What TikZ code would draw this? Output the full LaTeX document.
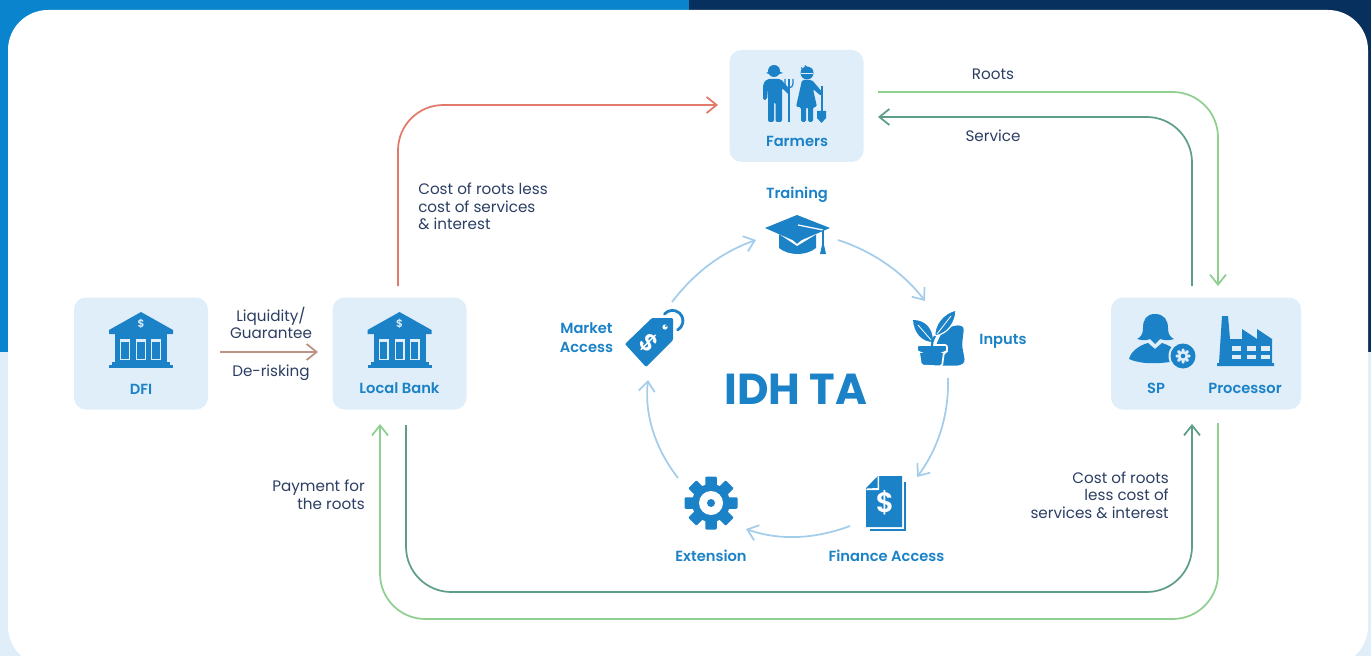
\documentclass[tikz,border=0pt]{standalone}
\usepackage{fontspec}
\setmainfont{Poppins}[BoldFont={Poppins SemiBold}]
\newfontfamily\heavyfont{Poppins Bold}
\usetikzlibrary{arrows.meta}
\definecolor{boxblue}{HTML}{E0EEF9}
\definecolor{iconblue}{HTML}{1B82C7}
\definecolor{topblue}{HTML}{0A84CC}
\definecolor{topnavy}{HTML}{08305E}
\definecolor{inkdark}{HTML}{2C3E63}
\definecolor{lgreen}{HTML}{8FCF8F}
\definecolor{dgreen}{HTML}{5F9E86}
\definecolor{redline}{HTML}{E2796A}
\definecolor{brownline}{HTML}{BC9284}
\definecolor{cyc}{HTML}{A3CDEB}
\tikzset{
  x=0.75pt,y=-0.75pt,
  card/.style={fill=boxblue,rounded corners=9pt},
  lab/.style={font=\fontsize{11}{13.2}\selectfont\bfseries,text=iconblue,inner sep=0pt,align=center},
  note/.style={font=\fontsize{11.4}{13.2}\selectfont,text=inkdark,inner sep=0pt},
  tipp/.style={-{Straight Barb[length=7.5pt,width=12pt,line width=1.3pt]}},
  flow/.style={line width=1.3pt,tipp,rounded corners=34pt},
  ring/.style={draw=cyc,line width=1.3pt,tipp},
}
\newcommand{\bankicon}[2]{%
\begin{scope}[shift={(#1,#2)}]
  \fill[iconblue] (-32,-12) -- (0,-30) -- (32,-12) -- (32,-8) -- (-32,-8) -- cycle;
  \fill[iconblue] (-26,-8) rectangle (26,20);
  \fill[iconblue] (-29,20) rectangle (29,23);
  \fill[iconblue] (-32,23) rectangle (32,26);
  \foreach \c in {-16,0,15}{\fill[boxblue] (\c-5,-3) rectangle (\c+5,18);\fill[iconblue] (\c-3.8,0) rectangle (\c+3.8,17);}
  \node[font=\fontsize{8}{8}\selectfont\bfseries,text=boxblue,inner sep=0pt] at (0,-18) {\$};
\end{scope}}
% centre x, centre y, body radius, tooth radius, tooth width, colour
\newcommand{\gearicon}[6]{%
\foreach \a in {0,45,...,315}{
  \fill[#6,rotate around={\a:(#1,#2)},rounded corners=0.8pt] (#1-#5/2,#2-#4) rectangle (#1+#5/2,#2);}
\fill[#6] (#1,#2) circle (#3);}
\begin{document}
\begin{tikzpicture}
\useasboundingbox (0,0) rectangle (1371,656);
% background
\fill[topblue] (0,0) rectangle (689,352);
\fill[topnavy] (689,0) rectangle (1371,352);
\fill[boxblue] (0,352) rectangle (1371,656);
\begin{scope}
\clip (0,0) rectangle (1371,656);
\fill[white,rounded corners=30pt] (8,10) rectangle (1368,666);
\end{scope}
% cards
\node[card,minimum width=100.5pt,minimum height=84pt,inner sep=0pt] (farmers) at (796.5,106) {};
\node[card,minimum width=100.5pt,minimum height=84pt,inner sep=0pt] (dfi) at (141,353.5) {};
\node[card,minimum width=100.5pt,minimum height=84pt,inner sep=0pt] (bank) at (399.5,353.5) {};
\node[card,minimum width=142.5pt,minimum height=84pt,inner sep=0pt] (proc) at (1206,353.5) {};
% anchor coordinates
\coordinate (bankTop) at (398,286);
\coordinate (farmIn) at (718,105);
\coordinate (rootsStart) at (1218,286);
\coordinate (rootsEnd) at (878,92);
\coordinate (servStart) at (1192,286);
\coordinate (servEnd) at (878,117);
\coordinate (dfiOut) at (220,352);
\coordinate (bankIn) at (318,352);
\coordinate (botA) at (406,425);
\coordinate (botAend) at (1192,424);
\coordinate (botB) at (1218,423);
\coordinate (botBend) at (380,424);
% flows
\draw[flow,draw=redline] (bankTop) -- (398,105) -- (farmIn);
\draw[flow,draw=lgreen] (rootsEnd) -- (1218,92) -- (rootsStart);
\draw[flow,draw=dgreen] (servStart) -- (1192,117) -- (servEnd);
\draw[flow,draw=brownline,rounded corners=0pt] (dfiOut) -- (bankIn);
\draw[flow,draw=dgreen] (botA) -- (406,592) -- (1192,592) -- (botAend);
\draw[flow,draw=lgreen] (botB) -- (1218,619) -- (380,619) -- (botBend);
% ring arrows
\coordinate (r1a) at (672,302); \coordinate (r1b) at (756,240);
\coordinate (r2a) at (838,240); \coordinate (r2b) at (925,301);
\coordinate (r3a) at (948,378); \coordinate (r3b) at (917,477);
\coordinate (r4a) at (850,526); \coordinate (r4b) at (746,529);
\coordinate (r5a) at (678,478); \coordinate (r5b) at (648,380);
\draw[ring] (r1a) .. controls (695,272) and (722,252) .. (r1b);
\draw[ring] (r2a) .. controls (872,251) and (903,272) .. (r2b);
\draw[ring] (r3a) .. controls (949,415) and (938,449) .. (r3b);
\draw[ring] (r4a) .. controls (815,539) and (780,541) .. (r4b);
\draw[ring] (r5a) .. controls (657,451) and (644,417) .. (r5b);
% text
\node[lab] (tfarm) at (797,141.5) {Farmers};
\node[lab] (tdfi) at (141,389) {DFI};
\node[lab] (tbank) at (399.5,388.5) {Local Bank};
\node[lab] (tsp) at (1156,388.5) {SP};
\node[lab] (tproc) at (1245,388.5) {Processor};
\node[lab] (ttrain) at (797,194.5) {Training};
\node[lab] (tinp) at (1003,341) {Inputs};
\node[lab] (tmkt) at (586.5,338) {Market\\[1.2pt]Access};
\node[lab] (text) at (711,556) {Extension};
\node[lab] (tfin) at (886.5,556) {Finance Access};
\node[font=\fontsize{32.5}{32.5}\selectfont\heavyfont,text=iconblue,inner sep=0pt] (idh) at (796,389) {IDH TA};
\node[note,anchor=west,align=left] (n1) at (418,206.5) {Cost of roots less\\cost of services\\\& interest};
\node[note] (n2) at (993,74) {Roots};
\node[note] (n3) at (993,136) {Service};
\node[note,align=center] (n4) at (271,323) {Liquidity/\\Guarantee};
\node[note] (n5) at (271,373) {De-risking};
\node[note,anchor=east,align=right] (n6) at (365,495) {Payment for\\the roots};
\node[note,anchor=east,align=right] (n7) at (1169,495) {Cost of roots\\less cost of\\services \& interest};
% bank icons
\bankicon{141}{342}
\bankicon{399.5}{342}
% farmer (man)
\fill[iconblue] (774,71) circle (6);
\fill[iconblue] (766,73) .. controls (770,70) and (778,70) .. (783,73) .. controls (779,75) and (770,75) .. cycle;
\fill[iconblue,rounded corners=1.5pt] (767,79) -- (781,79) -- (791,92) -- (789,95) -- (782,88) -- (782,122) -- (775.5,122) -- (775.5,102) -- (774,102) -- (774,122) -- (768,122) -- (768,88) -- (767,100) -- (763,100) -- (763,84) -- cycle;
% fork
\draw[iconblue,line width=0.9pt] (789,88) -- (789,122);
\draw[iconblue,line width=0.9pt] (785,79) -- (785,84) .. controls (785,89) and (793,89) .. (793,84) -- (793,79);
\draw[iconblue,line width=0.9pt] (789,79) -- (789,88);
% farmer (woman)
\fill[iconblue] (807,73) circle (6.5);
\fill[iconblue] (801,67) -- (804,69) -- (805,65) -- (808,68) -- (813,69) -- (810,71) -- (802,71) -- cycle;
\fill[boxblue] (801,73) rectangle (813,74);
\fill[iconblue,rounded corners=1.2pt] (802,80) -- (812,80) -- (823,93) -- (821,96) -- (813,89) -- (817,107) -- (813,107) -- (813,122) -- (808,122) -- (808,107) -- (806,107) -- (806,122) -- (801,122) -- (801,107) -- (796,107) -- cycle;
% shovel
\draw[iconblue,line width=1.4pt] (822,86) -- (822,112);
\fill[iconblue] (817,111) -- (826,111) -- (826,118) -- (821.5,123) -- (817,118) -- cycle;
% support person
\fill[iconblue] (1155,314) .. controls (1146,314) and (1143,320) .. (1143,328) .. controls (1143,334) and (1141,337) .. (1137,339) .. controls (1143,341) and (1148,340) .. (1150,339) -- (1155,344) -- (1160,339) .. controls (1163,340) and (1169,341) .. (1174,339) .. controls (1170,337) and (1168,334) .. (1168,328) .. controls (1168,320) and (1164,314) .. cycle;
\fill[iconblue] (1129,359) .. controls (1131,351) and (1140,345) .. (1148,343) -- (1155,349) -- (1162,343) .. controls (1168,345) and (1172,347) .. (1178,352) -- (1170,362) .. controls (1155,364) and (1140,364) .. (1129,359) -- cycle;
\fill[boxblue] (1183,356) circle (14.5);
\fill[iconblue] (1183,356) circle (12.5);
\gearicon{1183}{356}{5}{7.5}{3}{boxblue}
\fill[iconblue] (1183,356) circle (2.3);
% factory
\fill[iconblue] (1222,316) -- (1228,316) -- (1230,339) -- (1272,339) -- (1272,363) -- (1274,363) -- (1274,366) -- (1217,366) -- (1217,363) -- (1219,363) -- cycle;
\fill[iconblue] (1242,340) -- (1242,329) -- (1257,339) -- cycle;
\fill[iconblue] (1257,340) -- (1257,329) -- (1272,339) -- cycle;
\foreach \wx in {1232,1247,1261}{
  \fill[boxblue] (\wx,346) rectangle (\wx+8.5,351);
  \fill[boxblue] (\wx,355) rectangle (\wx+8.5,359);}
% graduation cap
\fill[iconblue] (779,230) -- (816,230) -- (816,248) .. controls (806,256) and (789,256) .. (779,248) -- cycle;
\fill[white] (776,225) -- (797,244) -- (820,225) -- (820,232) -- (797,246) -- (776,232) -- cycle;
\fill[iconblue] (765,228) -- (797,215) -- (830,228) -- (797,242) -- cycle;
\draw[white,line width=0.9pt] (798,225) -- (823,230);
\draw[iconblue,line width=1pt] (823,230) -- (823,246);
\fill[iconblue] (822,245) -- (824,245) -- (826,254) -- (820,254) -- cycle;
% price tag
\fill[iconblue,rounded corners=0.8pt] (625,344) -- (646,367) -- (673,340) -- (673,318) -- (652,318) -- cycle;
\fill[white] (665,327) circle (2.6);
\fill[iconblue] (666,326) circle (1.2);
\draw[iconblue,line width=2.1pt,line cap=round] (664.5,314) arc[start angle=221,end angle=420,radius=10.5];
\node[font=\fontsize{18}{18}\selectfont\bfseries,text=white,inner sep=0pt,rotate=-45] (tagd) at (648.5,343.5) {\$};
% plant and sack
\fill[iconblue,rounded corners=2pt] (942,332) -- (950,327) -- (958,325) -- (964,327) -- (962,345) -- (965,362) -- (960,365.5) -- (936,365.5) -- (936,345) -- cycle;
\fill[iconblue,draw=white,line width=1.3pt,rounded corners=1.5pt] (917,345) -- (947,345) -- (947,352) -- (944,352) -- (942,366.5) -- (921,365.5) -- (919,352) -- (917,352) -- cycle;
\fill[iconblue,draw=white,line width=0.9pt] (956,310) .. controls (956,322) and (948,334) .. (935,336) .. controls (934,325) and (943,313) .. (956,310) -- cycle;
\fill[iconblue] (913,320) .. controls (925,320) and (933,328) .. (933,342) .. controls (922,342) and (914,333) .. (913,320) -- cycle;
\draw[iconblue,line width=1.6pt] (935,336) .. controls (933,340) and (932,342) .. (932,346);
\draw[white,line width=0.6pt] (918,325) -- (931,340);
\draw[white,line width=0.6pt] (951,316) -- (937,334);
% document
\draw[iconblue,line width=1.2pt] (905,482) -- (905,530) -- (870,530);
\fill[iconblue] (878,476) -- (902,476) -- (902,527) -- (866,527) -- (866,488) -- cycle;
\fill[white] (877.5,477) -- (877.5,488) -- (867,488.5) -- (866,490) -- (879,490) -- (879,476) -- cycle;
\fill[iconblue] (876,478) -- (876,486.5) -- (868,486.5) -- cycle;
\node[font=\fontsize{21}{21}\selectfont\bfseries,text=white,inner sep=0pt] (docd) at (885,503) {\$};
% gear
\gearicon{711}{503}{19}{26.5}{11.5}{iconblue}
\fill[white] (711,503) circle (12);
\fill[iconblue] (711,503) circle (4);
\end{tikzpicture}
\end{document}
